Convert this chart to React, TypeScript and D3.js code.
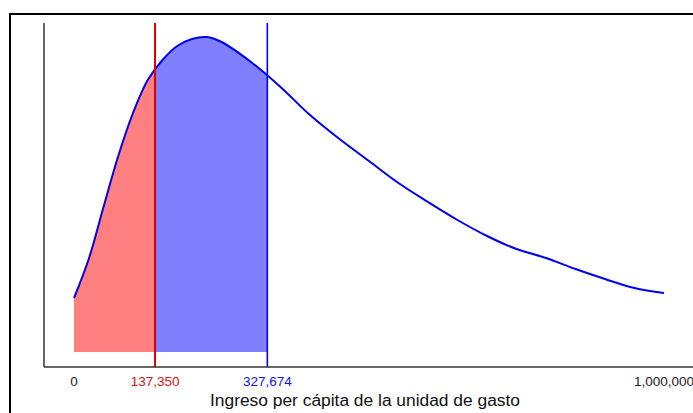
import * as React from "react";
import * as d3 from "d3";

// income (pesos) and estimated density (arbitrary units)
const incomes = [
	0, 25000, 50000, 75000, 100000, 125000, 150000, 175000, 200000, 225000,
	250000, 300000, 350000, 400000, 450000, 500000, 550000, 600000, 650000,
	700000, 750000, 800000, 850000, 900000, 950000, 1000000,
];
const density = [
	54, 93, 145, 196, 239, 272, 292, 306, 313, 315, 310, 290, 265, 237, 213,
	191, 169, 150, 132, 116, 103, 94, 83, 73, 64, 59,
];

const cutLow = 137350;
const cutHigh = 327674;
const tickValues = [0, cutLow, cutHigh, 1000000];
const tickColors = ["#222", "#dd1111", "#1111ee", "#222"];
const xLabel = "Ingreso per cápita de la unidad de gasto";

const width = 693;
const height = 413;

export default function App() {
	const points = incomes.map((x, i) => ({ x, d: density[i] }));

	const xScale = d3.scaleLinear([0, 1000000], [74, 664]);
	const yScale = d3.scaleLinear([0, 329], [352, 23]);

	const plotTop = 23;
	const plotBottom = 367;
	const axisLeft = 44;

	const line = d3
		.line<{ x: number; d: number }>()
		.x((p) => xScale(p.x))
		.y((p) => yScale(p.d))
		.curve(d3.curveCatmullRom.alpha(0.5));

	const area = d3
		.area<{ x: number; d: number }>()
		.x((p) => xScale(p.x))
		.y0(yScale(0))
		.y1((p) => yScale(p.d))
		.curve(d3.curveCatmullRom.alpha(0.5));

	const areaPath = area(points) || "";

	return (
		<svg
			width={width}
			height={height}
			style={{ position: "absolute", left: 0, top: 0, background: "white" }}
			fontFamily="'Liberation Sans', Arial, sans-serif"
		>
			<defs>
				<clipPath id="clip-low">
					<rect
						x={xScale(0)}
						y={0}
						width={xScale(cutLow) - xScale(0)}
						height={height}
					/>
				</clipPath>
				<clipPath id="clip-mid">
					<rect
						x={xScale(cutLow)}
						y={0}
						width={xScale(cutHigh) - xScale(cutLow)}
						height={height}
					/>
				</clipPath>
			</defs>
			<rect
				x={10}
				y={14}
				width={width + 20}
				height={height + 20}
				fill="white"
				stroke="black"
				strokeWidth={2}
			/>
			<path d={areaPath} fill="#ff8080" clipPath="url(#clip-low)" />
			<path d={areaPath} fill="#8080ff" clipPath="url(#clip-mid)" />
			<path
				d={line(points) || ""}
				fill="none"
				stroke="#0000ee"
				strokeWidth={2}
			/>
			<line
				x1={xScale(cutLow)}
				x2={xScale(cutLow)}
				y1={plotTop}
				y2={plotBottom}
				stroke="#dd0000"
				strokeWidth={2}
			/>
			<line
				x1={xScale(cutHigh)}
				x2={xScale(cutHigh)}
				y1={plotTop}
				y2={plotBottom}
				stroke="#0000ff"
				strokeWidth={1.6}
			/>
			<line
				x1={axisLeft}
				x2={axisLeft}
				y1={plotTop}
				y2={plotBottom}
				stroke="#333"
				strokeWidth={1.5}
			/>
			<line
				x1={axisLeft}
				x2={width + 10}
				y1={plotBottom}
				y2={plotBottom}
				stroke="#333"
				strokeWidth={1.5}
			/>
			{tickValues.map((v, i) => (
				<text
					key={v}
					x={xScale(v)}
					y={386}
					textAnchor="middle"
					fontSize={13.5}
					fill={tickColors[i]}
				>
					{d3.format(",")(v)}
				</text>
			))}
			<text
				x={365}
				y={406}
				textAnchor="middle"
				fontSize={16}
				textLength={310}
				lengthAdjust="spacingAndGlyphs"
				fill="#111"
			>
				{xLabel}
			</text>
		</svg>
	);
}
